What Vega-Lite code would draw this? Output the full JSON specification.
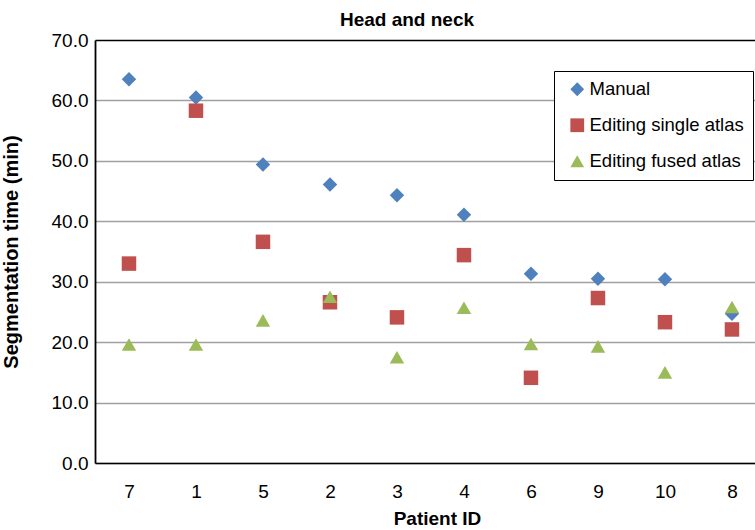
{
  "$schema": "https://vega.github.io/schema/vega-lite/v6.json",
  "autosize": "none",
  "padding": {"left": 95, "top": 40, "right": 0, "bottom": 67},
  "width": 660,
  "height": 423,
  "config": {
    "view": {"stroke": null},
    "font": "Liberation Sans"
  },
  "title": {"text": "Head and neck", "fontSize": 19, "fontWeight": "bold", "font": "Liberation Sans", "color": "black", "offset": 1, "dx": -18},
  "data": {
    "values": [
      {"patient": "7", "series": "Manual", "time": 63.5},
      {"patient": "1", "series": "Manual", "time": 60.5},
      {"patient": "5", "series": "Manual", "time": 49.4},
      {"patient": "2", "series": "Manual", "time": 46.1},
      {"patient": "3", "series": "Manual", "time": 44.3},
      {"patient": "4", "series": "Manual", "time": 41.1},
      {"patient": "6", "series": "Manual", "time": 31.3},
      {"patient": "9", "series": "Manual", "time": 30.5},
      {"patient": "10", "series": "Manual", "time": 30.4},
      {"patient": "8", "series": "Manual", "time": 24.7},
      {"patient": "7", "series": "Editing single atlas", "time": 33.0},
      {"patient": "1", "series": "Editing single atlas", "time": 58.3},
      {"patient": "5", "series": "Editing single atlas", "time": 36.6},
      {"patient": "2", "series": "Editing single atlas", "time": 26.6},
      {"patient": "3", "series": "Editing single atlas", "time": 24.1},
      {"patient": "4", "series": "Editing single atlas", "time": 34.4},
      {"patient": "6", "series": "Editing single atlas", "time": 14.1},
      {"patient": "9", "series": "Editing single atlas", "time": 27.3},
      {"patient": "10", "series": "Editing single atlas", "time": 23.3},
      {"patient": "8", "series": "Editing single atlas", "time": 22.1},
      {"patient": "7", "series": "Editing fused atlas", "time": 19.6},
      {"patient": "1", "series": "Editing fused atlas", "time": 19.6},
      {"patient": "5", "series": "Editing fused atlas", "time": 23.6},
      {"patient": "2", "series": "Editing fused atlas", "time": 27.5},
      {"patient": "3", "series": "Editing fused atlas", "time": 17.5},
      {"patient": "4", "series": "Editing fused atlas", "time": 25.7},
      {"patient": "6", "series": "Editing fused atlas", "time": 19.7},
      {"patient": "9", "series": "Editing fused atlas", "time": 19.3},
      {"patient": "10", "series": "Editing fused atlas", "time": 15.0},
      {"patient": "8", "series": "Editing fused atlas", "time": 25.8}
    ]
  },
  "mark": {"type": "point", "filled": true, "opacity": 1, "size": 210},
  "encoding": {
    "x": {
      "field": "patient", "type": "nominal",
      "sort": ["7", "1", "5", "2", "3", "4", "6", "9", "10", "8"],
      "scale": {"type": "point", "padding": 0.4254, "align": 0.596},
      "axis": {
        "title": "Patient ID", "titleFontSize": 19, "titleFontWeight": "bold", "titleColor": "black",
        "titlePadding": 8, "titleX": 342,
        "labelFontSize": 19, "labelColor": "black", "labelPadding": 19, "labelAngle": 0,
        "ticks": false, "domain": true, "domainColor": "black", "domainWidth": 1.5, "grid": false
      }
    },
    "y": {
      "field": "time", "type": "quantitative",
      "scale": {"domain": [0, 70], "nice": false},
      "axis": {
        "title": "Segmentation time (min)", "titleFontSize": 20, "titleFontWeight": "bold", "titleColor": "black",
        "titlePadding": 30,
        "values": [0, 10, 20, 30, 40, 50, 60, 70], "format": ".1f",
        "labelFontSize": 19, "labelColor": "black", "labelPadding": 7,
        "ticks": false, "domain": true, "domainColor": "black", "domainWidth": 1.8,
        "grid": true,
        "gridColor": {"condition": {"test": "datum.value === 70", "value": "black"}, "value": "#a0a0a0"},
        "gridWidth": {"condition": {"test": "datum.value === 70", "value": 1.5}, "value": 1.3}
      }
    },
    "color": {
      "field": "series", "type": "nominal",
      "scale": {"domain": ["Manual", "Editing single atlas", "Editing fused atlas"], "range": ["#4F81BD", "#C0504D", "#9BBB59"]},
      "legend": {
        "title": null, "orient": "none", "legendX": 459, "legendY": 31,
        "padding": 9, "rowPadding": 17, "symbolOffset": 5, "labelOffset": 3,
        "labelFontSize": 18.5, "labelColor": "black", "labelFont": "Liberation Sans",
        "symbolSize": 190, "strokeColor": "black", "fillColor": "white", "cornerRadius": 0
      }
    },
    "shape": {
      "field": "series", "type": "nominal",
      "scale": {"domain": ["Manual", "Editing single atlas", "Editing fused atlas"], "range": ["diamond", "square", "triangle-up"]},
      "legend": {
        "title": null, "orient": "none", "legendX": 459, "legendY": 31,
        "padding": 9, "rowPadding": 17, "symbolOffset": 5, "labelOffset": 3,
        "labelFontSize": 18.5, "labelColor": "black", "labelFont": "Liberation Sans",
        "symbolSize": 190, "strokeColor": "black", "fillColor": "white", "cornerRadius": 0
      }
    }
  }
}
